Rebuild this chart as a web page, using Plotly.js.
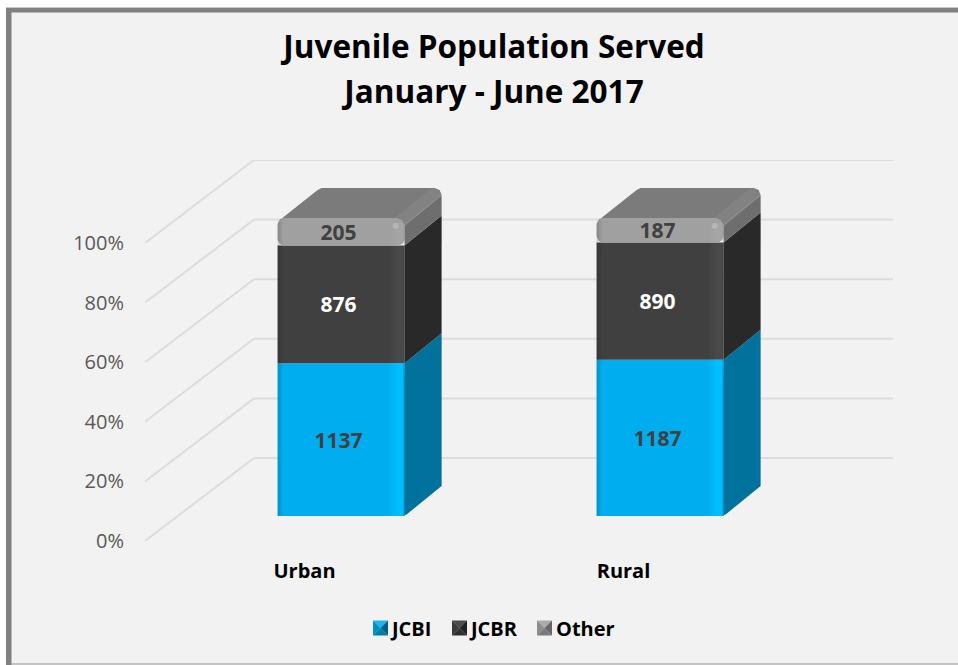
<!DOCTYPE html>
<html>
<head>
<meta charset="utf-8">
<script src="https://cdn.plot.ly/plotly-3.0.1.min.js"></script>
<style>html,body{margin:0;padding:0;background:#fff}#chart{width:958px;height:665px}</style>
</head>
<body>
<div id="chart"></div>
<script>
// ---- data ----
const categories = ['Urban', 'Rural'];
const jcbi = [1137, 1187];
const jcbr = [876, 890];
const other = [205, 187];
const percentTicks = [0, 20, 40, 60, 80, 100];
const percentLabels = ['0%', '20%', '40%', '60%', '80%', '100%'];

// ---- pseudo-3D geometry (pixels) ----
const L = 145, R = 893, T = 160, B = 541;      // plot box
const PX_CAT = 319, PX_PCT = 2.98;             // pixels per category, per percent
const WALL_DX = 109, WALL_DY = 83;             // floor depth
const BAR_W = 127, BAR_SHIFT_X = 36.6, BAR_SHIFT_Y = 25; // bar placed inside the floor
const DEPTH_X = 37, DEPTH_Y = 30;              // bar depth
const LABEL_SHIFT_X = -2.5;                    // data labels sit a little left of bar centre

const dx = p => p / PX_CAT, dy = p => p / PX_PCT;
const xRange = [-0.5, -0.5 + dx(R - L)];
const yRange = [0, dy(B - T)];
const paperX = p => (p - L) / (R - L), paperY = p => (B - p) / (B - T);
const FONT = 'Open Sans, Lato, sans-serif';

const totals = categories.map((_, i) => jcbi[i] + jcbr[i] + other[i]);
const pct = arr => arr.map((v, i) => v / totals[i] * 100);
const series = [
  {name: 'JCBI', values: jcbi, front: '#00AEEF', side: '#00729C', text: '#404040'},
  {name: 'JCBR', values: jcbr, front: '#404040', side: '#292929', text: '#FFFFFF'},
  {name: 'Other', values: other, front: '#A0A0A0', side: '#6E6E6E', text: '#404040'}
];

const barX = categories.map((_, i) => i + dx(BAR_SHIFT_X));
const floorShift = dy(BAR_SHIFT_Y);
let cum = categories.map(() => floorShift);
const traces = [], labels = [], overlays = [];

function poly(ax, ay, pts, color, gradient) {
  const t = {
    type: 'scatter', mode: 'lines', showlegend: false, hoverinfo: 'skip',
    x: pts.map(p => ax + dx(p[0])).concat(ax + dx(pts[0][0])),
    y: pts.map(p => ay - dy(p[1])).concat(ay - dy(pts[0][1])),
    line: {width: 0}, fill: 'toself', fillcolor: color
  };
  if (gradient) t.fillgradient = gradient;
  return t;
}
const hGrad = stops => ({type: 'horizontal', colorscale: stops});

series.forEach((s, k) => {
  const p = pct(s.values);
  const base = cum.slice();
  traces.push({
    type: 'bar', name: s.name, x: barX, y: p, base: base,
    width: dx(BAR_W),
    marker: {color: s.front, line: {width: 0}, cornerradius: k === 2 ? 7 : 0},
    hoverinfo: 'skip', cliponaxis: false
  });
  labels.push({
    type: 'bar', name: s.name + ' labels', showlegend: false,
    x: barX.map(x => x + dx(LABEL_SHIFT_X)), y: p, base: base, width: dx(BAR_W),
    marker: {color: 'rgba(0,0,0,0)', line: {width: 0}},
    text: s.values.map(String), textposition: 'inside', insidetextanchor: 'middle',
    textangle: 0, constraintext: 'none',
    textfont: {family: FONT, size: 21, weight: 700, color: s.text},
    hoverinfo: 'skip', cliponaxis: false
  });
  categories.forEach((_, i) => {
    const xl = barX[i] - dx(BAR_W) / 2, b = base[i], t = base[i] + p[i];
    const h = (t - b) * PX_PCT, W = BAR_W;
    // right side face
    const sidePts = k === 2
      ? [[W, h], [W + DEPTH_X, h - DEPTH_Y], [W + DEPTH_X, -23], [W, 7]]
      : k === 0
        ? [[W - 4, h], [W + 2, h - 1.5], [W + DEPTH_X, h - DEPTH_Y], [W + DEPTH_X, -DEPTH_Y], [W, 0]]
        : [[W, h], [W + DEPTH_X, h - DEPTH_Y], [W + DEPTH_X, -DEPTH_Y], [W, 0]];
    overlays.push(poly(xl, t, sidePts, s.side));
    // edge bevels on the front face
    const y0 = k === 2 ? 5 : 0;
    overlays.push(poly(xl, t, [[0, y0], [6, y0 - (k === 2 ? 4 : 0)], [6, h], [0, h]], 'rgba(0,0,0,0.08)',
      hGrad([[0, 'rgba(0,0,0,0.16)'], [1, 'rgba(0,0,0,0)']])));
    const hi = k === 0 ? 'rgba(0,190,255,1)' : 'rgba(255,255,255,0.05)';
    overlays.push(poly(xl, t, [[W - 16, y0], [W, y0], [W, h], [W - 16, h]], 'rgba(255,255,255,0.04)',
      hGrad([[0, k === 0 ? 'rgba(0,190,255,0)' : 'rgba(255,255,255,0)'], [0.6, hi], [0.88, hi], [1, k === 0 ? 'rgba(0,150,205,1)' : 'rgba(0,0,0,0.1)']])));
    if (k === 2) {
      // top face, rounded corners and bevels of the cap
      overlays.push(poly(xl, t, [[1, 4], [6, -1], [40, -28], [44, -DEPTH_Y], [W + 30, -DEPTH_Y],
        [W + 35, -28], [W + DEPTH_X, -23], [W, 7], [W - 3, 2], [W - 8, 0], [8, 0], [3, 1]], '#7B7B7B'));
      overlays.push(poly(xl, t, [[W - 10, 0], [W + 27, -DEPTH_Y], [W + 33, -28], [W + DEPTH_X, -22], [W, 9], [W - 3, 3]],
        'rgba(255,255,255,0.06)'));
      overlays.push({type: 'scatter', mode: 'markers', showlegend: false, hoverinfo: 'skip',
        x: [xl + dx(W - 9)], y: [t - dy(8)], marker: {size: 6, color: 'rgba(255,255,255,0.2)', line: {width: 0}}});
    }
  });
  cum = cum.map((c, i) => c + p[i]);
});

// wall + floor gridlines
const grey = {color: '#DCDCDC', width: 2};
const wallX = xRange[0] + dx(WALL_DX), wallDy = dy(WALL_DY);
const gridShapes = [];
percentTicks.forEach(v => {
  gridShapes.push({type: 'line', layer: 'below', xref: 'x', yref: 'y', x0: xRange[0], y0: v, x1: wallX, y1: v + wallDy, line: grey});
  gridShapes.push({type: 'line', layer: 'below', xref: 'x', yref: 'y', x0: wallX, y0: v + wallDy, x1: xRange[1], y1: v + wallDy, line: grey});
});

// frame
const box = (x0, y0, x1, y1, fill) => ({type: 'rect', layer: 'below', xref: 'paper', yref: 'paper',
  x0: paperX(x0), x1: paperX(x1), y0: paperY(y0), y1: paperY(y1), fillcolor: fill, line: {width: 0}});
const frame = [
  box(6, 7, 960, 8, '#C8C8C8'),
  box(6, 8, 960, 665, '#808080'),
  box(11.5, 12.5, 960, 663, '#F2F2F2'),
  box(11.5, 663, 960, 667, '#C4C4C4')
];

const layout = {
  width: 958, height: 665,
  margin: {l: L, r: 958 - R, t: T, b: 665 - B, pad: 0},
  paper_bgcolor: '#FFFFFF', plot_bgcolor: 'rgba(0,0,0,0)',
  barmode: 'overlay', showlegend: true,
  title: {
    text: 'Juvenile Population Served<br>January - June 2017',
    font: {family: FONT, size: 31.5, weight: 700, color: '#000000'},
    x: 494 / 958, xanchor: 'center', xref: 'container',
    y: 1 - 58 / 665, yanchor: 'top', yref: 'container'
  },
  xaxis: {
    type: 'linear', range: xRange, tickvals: categories.map((_, i) => i), ticktext: categories,
    showgrid: false, zeroline: false, showline: false, ticks: '', ticklabelstandoff: 16,
    tickfont: {family: FONT, size: 20, weight: 700, color: '#000000'}
  },
  yaxis: {
    range: yRange, tickvals: percentTicks, ticktext: percentLabels,
    showgrid: false, zeroline: false, showline: false, ticks: '', ticklabelstandoff: 20,
    ticklabelshift: 1.5,
    tickfont: {family: FONT, size: 20, color: '#595959'}
  },
  legend: {
    orientation: 'h', x: paperX(368), xanchor: 'left', y: paperY(628), yanchor: 'middle',
    bgcolor: 'rgba(0,0,0,0)', borderwidth: 0, traceorder: 'normal',
    font: {family: FONT, size: 20, weight: 700, color: '#000000'}
  },
  shapes: frame.concat(gridShapes)
};

// pyramid swatches and tight spacing of the legend
const legendTargets = [373, 452, 537];
const legendFaces = [
  ['#16B8F2', '#0090C6', '#005F84', '#007CA8'],
  ['#4A4A4A', '#3A3A3A', '#222222', '#303030'],
  ['#ABABAB', '#8C8C8C', '#666666', '#7A7A7A']
];
const SW = 15, NS = 'http://www.w3.org/2000/svg';
Plotly.newPlot('chart', traces.concat(labels, overlays), layout, {displayModeBar: false, staticPlot: true}).then(gd => {
  const second = gd.querySelectorAll('.gtitle tspan.line')[1];
  if (second) second.setAttribute('dy', '45px');
  const lg = gd.querySelector('.legend');
  if (!lg) return;
  const m = /translate\(([-\d.]+)[ ,]+([-\d.]+)\)/.exec(lg.getAttribute('transform'));
  const lx = m ? +m[1] : 0;
  lg.querySelectorAll('.traces').forEach((g, i) => {
    const own = /translate\(([-\d.]+)[ ,]+([-\d.]+)\)/.exec(g.getAttribute('transform'));
    g.setAttribute('transform', 'translate(' + (legendTargets[i] - lx) + ',' + (own ? own[2] : 0) + ')');
    const txt = g.querySelector('.legendtext');
    if (txt) { txt.setAttribute('x', SW + 4); txt.setAttribute('text-anchor', 'start'); }
    const pts = g.querySelector('.legendpoints');
    if (pts) {
      pts.innerHTML = '';
      const h = SW / 2;
      const faces = ['M0,' + (-h) + 'H' + SW + 'L' + h + ',0Z', 'M0,' + (-h) + 'V' + h + 'L' + h + ',0Z',
                     'M' + SW + ',' + (-h) + 'V' + h + 'L' + h + ',0Z', 'M0,' + h + 'H' + SW + 'L' + h + ',0Z'];
      faces.forEach((d, f) => {
        const path = document.createElementNS(NS, 'path');
        path.setAttribute('d', d);
        path.setAttribute('fill', legendFaces[i][f]);
        pts.appendChild(path);
      });
    }
  });
});
</script>
</body>
</html>
